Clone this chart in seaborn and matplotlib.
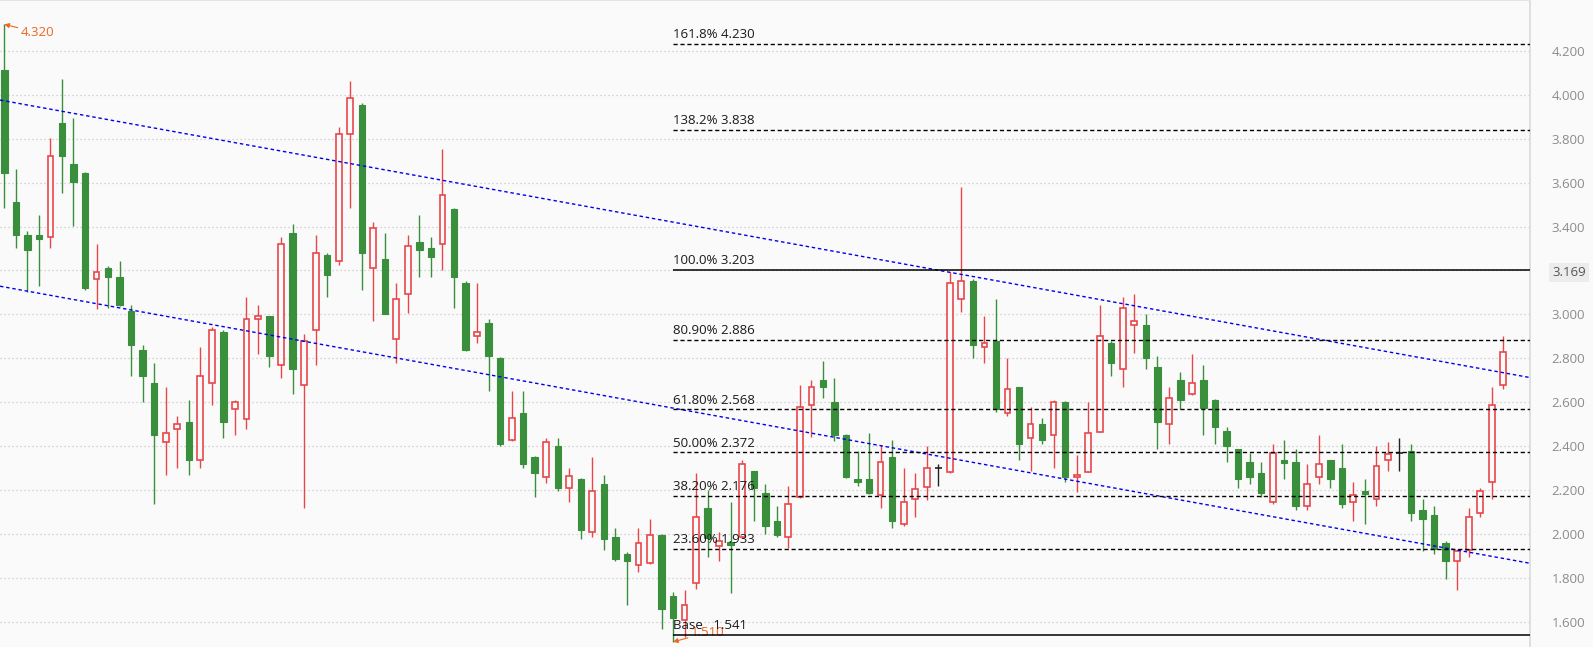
import numpy as np
import pandas as pd
import seaborn as sns
import matplotlib.pyplot as plt

# daily candles (oldest first)
open_prices = [
    4.112, 3.512, 3.361, 3.361, 3.351, 3.871, 3.684, 3.643, 3.160, 3.210,
    3.170, 3.017, 2.838, 2.688, 2.418, 2.477, 2.511, 2.336, 2.687, 2.920,
    2.568, 2.525, 2.978, 2.993, 2.769, 3.371, 2.678, 2.928, 3.271, 3.242,
    3.820, 3.953, 3.210, 3.252, 2.887, 3.092, 3.328, 3.301, 3.319, 3.480,
    3.143, 2.900, 2.961, 2.802, 2.427, 2.551, 2.351, 2.259, 2.400, 2.209,
    2.250, 2.009, 2.228, 1.987, 1.910, 1.859, 1.868, 1.995, 1.718, 1.608,
    1.777, 2.118, 1.945, 1.963, 1.986, 2.288, 2.188, 2.061, 1.986, 2.171,
    2.587, 2.702, 2.601, 2.450, 2.251, 2.251, 2.178, 2.350, 2.045, 2.159,
    2.216, 2.300, 2.285, 3.069, 3.152, 2.850, 2.880, 2.550, 2.668, 2.436,
    2.500, 2.450, 2.600, 2.259, 2.285, 2.466, 2.870, 2.750, 2.951, 2.952,
    2.761, 2.500, 2.702, 2.637, 2.702, 2.611, 2.470, 2.388, 2.329, 2.279,
    2.145, 2.338, 2.329, 2.127, 2.259, 2.336, 2.301, 2.145, 2.197, 2.159,
    2.336, 2.368, 2.377, 2.109, 2.086, 1.959, 1.877, 1.928, 2.095, 2.236,
    2.679,
]
high_prices = [
    4.320, 3.662, 3.380, 3.452, 3.801, 4.071, 3.894, 3.650, 3.320, 3.220,
    3.243, 3.043, 2.861, 2.779, 2.670, 2.538, 2.611, 2.852, 2.944, 2.930,
    2.611, 3.079, 3.043, 2.995, 3.352, 3.411, 2.911, 3.363, 3.280, 3.853,
    4.062, 3.960, 3.421, 3.371, 3.143, 3.362, 3.452, 3.354, 3.753, 3.485,
    3.150, 3.143, 2.979, 2.805, 2.652, 2.652, 2.355, 2.436, 2.436, 2.301,
    2.255, 2.351, 2.269, 2.030, 1.919, 2.030, 2.068, 2.000, 1.736, 1.746,
    2.277, 2.201, 2.011, 2.147, 2.338, 2.290, 2.229, 2.130, 2.220, 2.679,
    2.702, 2.788, 2.709, 2.455, 2.379, 2.459, 2.406, 2.429, 2.301, 2.277,
    2.401, 2.320, 3.194, 3.581, 3.160, 2.993, 3.070, 2.800, 2.670, 2.578,
    2.529, 2.611, 2.605, 2.361, 2.600, 3.043, 2.878, 3.081, 3.093, 3.001,
    2.811, 2.668, 2.738, 2.820, 2.770, 2.615, 2.488, 2.390, 2.368, 2.327,
    2.410, 2.429, 2.388, 2.320, 2.451, 2.340, 2.410, 2.238, 2.251, 2.401,
    2.420, 2.438, 2.410, 2.160, 2.127, 1.969, 1.930, 2.118, 2.209, 2.668,
    2.900,
]
low_prices = [
    3.484, 3.304, 3.103, 3.131, 3.304, 3.554, 3.404, 3.110, 3.023, 3.031,
    3.040, 2.721, 2.601, 2.139, 2.271, 2.303, 2.271, 2.303, 2.589, 2.439,
    2.451, 2.479, 2.821, 2.762, 2.712, 2.639, 2.121, 2.772, 3.081, 3.224,
    3.483, 3.113, 2.972, 3.000, 2.780, 3.005, 3.172, 3.172, 3.202, 3.031,
    2.835, 2.872, 2.653, 2.403, 2.425, 2.303, 2.171, 2.231, 2.198, 2.148,
    1.980, 1.989, 1.928, 1.878, 1.678, 1.830, 1.865, 1.570, 1.510, 1.534,
    1.749, 1.898, 1.880, 1.731, 1.985, 2.062, 2.000, 1.989, 1.939, 2.165,
    2.441, 2.621, 2.423, 2.258, 2.221, 2.182, 2.121, 2.030, 2.039, 2.080,
    2.156, 2.221, 2.280, 3.013, 2.802, 2.780, 2.555, 2.539, 2.339, 2.289,
    2.412, 2.303, 2.239, 2.190, 2.283, 2.465, 2.721, 2.671, 2.823, 2.753,
    2.389, 2.412, 2.571, 2.635, 2.451, 2.410, 2.329, 2.212, 2.230, 2.171,
    2.139, 2.253, 2.112, 2.112, 2.230, 2.212, 2.121, 2.062, 2.048, 2.130,
    2.288, 2.288, 2.062, 1.922, 1.911, 1.798, 1.748, 1.898, 2.080, 2.162,
    2.662,
]
close_prices = [
    3.645, 3.363, 3.294, 3.345, 3.719, 3.722, 3.604, 3.122, 3.192, 3.172,
    3.044, 2.862, 2.721, 2.453, 2.459, 2.500, 2.339, 2.720, 2.929, 2.512,
    2.601, 2.979, 2.991, 2.812, 3.319, 2.753, 2.879, 3.278, 3.181, 3.820,
    3.983, 3.281, 3.392, 3.003, 3.070, 3.312, 3.295, 3.263, 3.542, 3.172,
    2.840, 2.919, 2.812, 2.412, 2.527, 2.321, 2.280, 2.418, 2.212, 2.266,
    2.021, 2.195, 1.978, 1.887, 1.880, 1.959, 1.995, 1.661, 1.621, 1.676,
    2.077, 1.981, 1.969, 1.951, 2.318, 2.212, 2.039, 1.998, 2.138, 2.578,
    2.669, 2.671, 2.453, 2.262, 2.239, 2.189, 2.327, 2.061, 2.145, 2.207,
    2.300, 2.300, 3.142, 3.151, 2.862, 2.869, 2.571, 2.659, 2.412, 2.500,
    2.430, 2.600, 2.262, 2.269, 2.459, 2.902, 2.780, 3.028, 2.969, 2.803,
    2.512, 2.618, 2.612, 2.687, 2.573, 2.489, 2.403, 2.253, 2.262, 2.189,
    2.368, 2.323, 2.130, 2.228, 2.318, 2.253, 2.139, 2.177, 2.182, 2.309,
    2.366, 2.368, 2.098, 2.071, 1.931, 1.880, 1.925, 2.077, 2.195, 2.587,
    2.827,
]

# fibonacci retracement drawn from the swing low
fib_labels = ["161.8% 4.230", "138.2% 3.838", "100.0% 3.203", "80.90% 2.886",
              "61.80% 2.568", "50.00% 2.372", "38.20% 2.176", "23.60% 1.933",
              "Base   1.541"]
fib_levels = [4.230, 3.838, 3.203, 2.886, 2.568, 2.372, 2.176, 1.933, 1.541]
fib_solid = [False, False, True, False, False, False, False, False, True]
fib_start = 58

# descending channel: price at two candle indexes
trend_idx = [0, 130]
upper_trend = [3.972, 2.735]
lower_trend = [3.125, 1.890]

y_ticks = [1.6, 1.8, 2.0, 2.2, 2.4, 2.6, 2.8, 3.0, 3.2, 3.4, 3.6, 3.8, 4.0, 4.2]
last_price_label = "3.169"

BG = "#fafafa"
RED = "#e8474a"
GREEN = "#3a8f3c"
ORANGE = "#f0661e"

sns.set_theme(style="white")
plt.rcParams["font.family"] = ["Open Sans", "DejaVu Sans"]

df = pd.DataFrame({
    "idx": np.arange(len(open_prices)),
    "open": open_prices, "high": high_prices,
    "low": low_prices, "close": close_prices,
})
up = df["close"] > df["open"]
down = df["close"] < df["open"]
flat = df["close"] == df["open"]
wick_colors = np.where(up, RED, np.where(down, GREEN, "#222222"))

fig = plt.figure(figsize=(15.93, 6.47), dpi=100, facecolor=BG)
ax = fig.add_axes([0, 0, 1530 / 1593, 1])
ax.set_facecolor(BG)
xlim = (-0.373, 132.32)

ax.set_yticks(y_ticks)
ax.set_yticklabels([f"{t:.3f}" for t in y_ticks])
ax.set_xticks([])
ax.yaxis.grid(True, linestyle=(0, (1, 2.2)), color="#c8c8c8", lw=0.9)
ax.set_axisbelow(True)

# wicks then bodies
ax.vlines(df["idx"], df["low"], df["high"], colors=wick_colors, lw=1.0, zorder=2)
u = df[up]
ax.bar(u["idx"], u["close"] - u["open"], bottom=u["open"], width=0.5,
       facecolor=BG, edgecolor=RED, lw=1.2, zorder=3)
d = df[down]
ax.bar(d["idx"], d["open"] - d["close"], bottom=d["close"], width=0.56,
       facecolor=GREEN, edgecolor=GREEN, lw=0.8, zorder=3)
f = df[flat]
ax.hlines(f["open"], f["idx"] - 0.3, f["idx"] + 0.3, color="#222222", lw=1.2, zorder=3)

# channel lines
x_ext = np.array(xlim)
for pts in (upper_trend, lower_trend):
    slope = (pts[1] - pts[0]) / (trend_idx[1] - trend_idx[0])
    sns.lineplot(x=x_ext, y=pts[0] + slope * (x_ext - trend_idx[0]), ax=ax,
                 color="#0000ee", lw=1.0, linestyle=(0, (2.5, 2)), zorder=4)

# fib levels
for lab, lev, solid in zip(fib_labels, fib_levels, fib_solid):
    ax.hlines(lev, fib_start, xlim[1], color="black",
              lw=1.1 if solid else 1.0,
              linestyles="solid" if solid else (0, (3, 2)), zorder=4)
    ax.annotate(lab, xy=(fib_start, lev), xytext=(0, 2), textcoords="offset points",
                fontsize=9.5, color="#1a1a1a", ha="left", va="bottom", zorder=5)

# extreme markers
hi_i = int(np.argmax(high_prices))
lo_i = int(np.argmin(low_prices))
ax.annotate(f"{high_prices[hi_i]:.3f}", xy=(hi_i, high_prices[hi_i]), xytext=(12, -6),
            textcoords="offset points", color=ORANGE, fontsize=9.5, ha="left", va="center",
            arrowprops=dict(arrowstyle="-|>", color=ORANGE, lw=0.8, mutation_scale=7,
                            shrinkA=0, shrinkB=0))
ax.annotate(f"{low_prices[lo_i]:.3f}", xy=(lo_i, low_prices[lo_i]), xytext=(13, 7),
            textcoords="offset points", color=ORANGE, fontsize=9.5, ha="left", va="center",
            arrowprops=dict(arrowstyle="-|>", color=ORANGE, lw=0.8, mutation_scale=7,
                            shrinkA=0, shrinkB=0))

ax.set_xlim(*xlim)
ax.set_ylim(1.487, 4.4307)

ax.yaxis.tick_right()
ax.tick_params(axis="y", length=0, pad=15.5, labelsize=9.5, labelcolor="#8c8c8c")
for s in ("left", "bottom"):
    ax.spines[s].set_visible(False)
ax.spines["right"].set_color("#dcdcdc")
ax.spines["top"].set_color("#e4e4e4")
ax.spines["top"].set_linewidth(1.5)

# current price tag on the axis
ax.annotate(last_price_label, xy=(1.0144, 3.19), xycoords=("axes fraction", "data"),
            fontsize=9.5, color="#555555", ha="left", va="center",
            bbox=dict(boxstyle="square,pad=0.25", facecolor="#ececec", edgecolor="none"),
            annotation_clip=False)

plt.xlabel("")
plt.ylabel("")
fig.savefig("out.png", dpi=100, facecolor=BG)
